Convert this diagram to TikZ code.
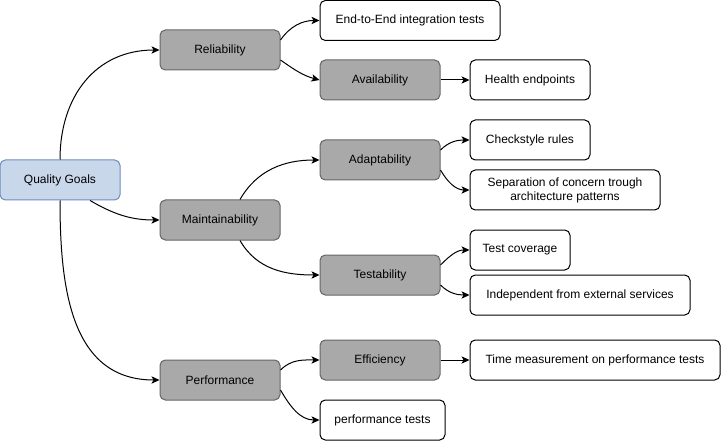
\documentclass[tikz,border=0pt]{standalone}
\usepackage{fontspec}
\setmainfont{Liberation Sans}
\usetikzlibrary{arrows.meta}
\definecolor{qgfill}{HTML}{C9D7EA}
\definecolor{qgdraw}{HTML}{6C8EBF}
\definecolor{gfill}{HTML}{A9A9A9}
\definecolor{gdraw}{HTML}{666666}
\begin{document}
\begin{tikzpicture}[x=0.75pt,y=-0.75pt,
  box/.style={draw=black,fill=white,rounded corners=4pt,line width=0.75pt,minimum height=30pt,inner sep=0pt,align=center,font=\fontsize{9pt}{10.5pt}\selectfont},
  goal/.style={box,draw=qgdraw,fill=qgfill,minimum width=90pt},
  cat/.style={box,draw=gdraw,fill=gfill,minimum width=90pt},
  leaf/.style={box},
  arr/.style={line width=0.75pt,-{Stealth[length=6pt,width=5.5pt,inset=1.5pt]}}]
\useasboundingbox (0,0) rectangle (721,442);
\node[goal] (qg) at (60,180) {Quality Goals};
\node[cat] (rel) at (220,50) {Reliability};
\node[cat] (main) at (220,220) {Maintainability};
\node[cat] (perf) at (220,380) {Performance};
\node[leaf,minimum width=135pt] (e2e) at (410,20.5) {End-to-End integration tests};
\node[cat] (avail) at (380,80) {Availability};
\node[leaf,minimum width=90pt] (health) at (530,80) {Health endpoints};
\node[cat] (adapt) at (380,160) {Adaptability};
\node[leaf,minimum width=90pt] (check) at (530,140) {Checkstyle rules};
\node[leaf,minimum width=142.5pt] (sep) at (565,190) {Separation of concern trough\\architecture patterns};
\node[cat] (test) at (380,275) {Testability};
\node[leaf,minimum width=75pt] (cov) at (520,250) {Test coverage};
\node[leaf,minimum width=165pt] (indep) at (580,295) {Independent from external services};
\node[cat] (eff) at (380,360) {Efficiency};
\node[leaf,minimum width=187.5pt] (time) at (595,360) {Time measurement on performance tests};
\node[leaf,minimum width=93.75pt] (pt) at (382.5,420) {performance tests};

\draw[arr] (qg.north) to[out=90,in=180,looseness=1.1] (rel.west);
\draw[arr] ([xshift=22.5pt]qg.south) to[out=-30,in=180] (main.west);
\draw[arr] (qg.south) to[out=-90,in=180,looseness=1.1] (perf.west);
\draw[arr] ([yshift=7.5pt]rel.east) to[out=55,in=180] (e2e.west);
\draw[arr] ([yshift=-7.5pt]rel.east) to[out=-35,in=165] (avail.west);
\draw[arr] (avail) -- (health);
\draw[arr] ([xshift=15pt]main.north) to[out=60,in=180] (adapt.west);
\draw[arr] ([xshift=15pt]main.south) to[out=-60,in=180] (test.west);
\draw[arr] ([yshift=7.5pt]adapt.east) to[out=45,in=180] (check.west);
\draw[arr] ([yshift=-7.5pt]adapt.east) to[out=-60,in=180] (sep.west);
\draw[arr] ([yshift=7.5pt]test.east) to[out=45,in=180] (cov.west);
\draw[arr] ([yshift=-7.5pt]test.east) to[out=-45,in=180] (indep.west);
\draw[arr] (eff) -- (time);
\draw[arr] ([yshift=7.5pt]perf.east) to[out=45,in=180] (eff.west);
\draw[arr] ([yshift=-7.5pt]perf.east) to[out=-60,in=180] (pt.west);
\end{tikzpicture}
\end{document}
